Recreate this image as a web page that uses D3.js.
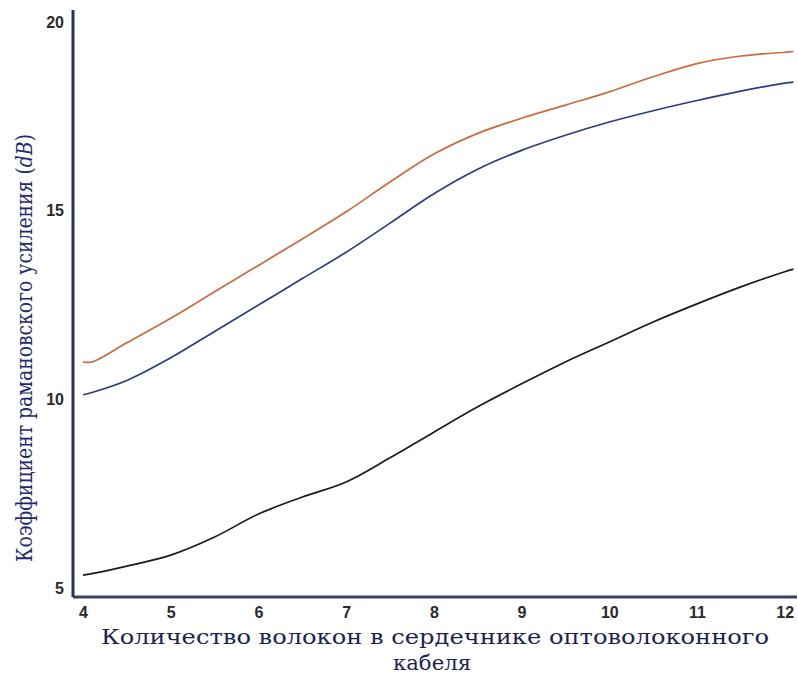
<!DOCTYPE html>
<html>
<head>
<meta charset="utf-8">
<script src="https://cdn.jsdelivr.net/npm/d3@7"></script>
<style>
  html, body { margin: 0; padding: 0; background: #ffffff; }
  svg { display: block; }
  .axis-title { font-family: "DejaVu Serif", "Liberation Serif", "Times New Roman", serif; }
</style>
</head>
<body>
<svg id="chart" width="798" height="674"></svg>
<script>
// Number of fibres in the cable core
const fibreCounts = [4, 4.1, 4.5, 5, 5.5, 6, 6.5, 7, 7.5, 8, 8.5, 9, 9.5, 10, 10.5, 11, 11.5, 12, 12.1];

// Raman gain (dB) for each configuration
const gainUpper = [10.99, 10.99, 11.5, 12.15, 12.85, 13.55, 14.25, 14.97, 15.76, 16.5, 17.05, 17.45, 17.8, 18.15, 18.55, 18.9, 19.1, 19.2, 19.22];
const gainMiddle = [10.12, 10.18, 10.5, 11.1, 11.8, 12.5, 13.2, 13.9, 14.67, 15.45, 16.1, 16.6, 17.0, 17.35, 17.65, 17.92, 18.17, 18.38, 18.41];
const gainLower = [5.34, 5.38, 5.58, 5.87, 6.35, 6.96, 7.41, 7.81, 8.45, 9.13, 9.80, 10.41, 10.99, 11.52, 12.05, 12.53, 12.98, 13.38, 13.45];

const xTicks = [4, 5, 6, 7, 8, 9, 10, 11, 12];
const yTicks = [5, 10, 15, 20];

const series = [
  { name: "upper", values: gainUpper, color: "#c96b3f" },
  { name: "middle", values: gainMiddle, color: "#2d3c7e" },
  { name: "lower", values: gainLower, color: "#1b1b1f" }
];

const svg = d3.select("#chart");

const x = d3.scaleLinear().domain([3.886, 12.14]).range([73, 797]);
const y = d3.scaleLinear().domain([4.76, 20.32]).range([597, 10]);

// Curves
const line = d3.line()
  .x((d, i) => x(fibreCounts[i]))
  .y(d => y(d))
  .curve(d3.curveCatmullRom.alpha(0.5));

svg.append("g")
  .selectAll("path")
  .data(series)
  .join("path")
  .attr("d", d => line(d.values))
  .attr("fill", "none")
  .attr("stroke", d => d.color)
  .attr("stroke-width", 1.7)
  .attr("stroke-linejoin", "round");

// Axes (no tick marks, labels only)
const xAxis = d3.axisBottom(x).tickValues(xTicks).tickSize(0).tickPadding(10).tickFormat(d3.format("d"));
const yAxis = d3.axisLeft(y).tickValues(yTicks).tickSize(0).tickPadding(9).tickFormat(d3.format("d"));

const gx = svg.append("g").attr("transform", "translate(0,597)").call(xAxis);
const gy = svg.append("g").attr("transform", "translate(73,0)").call(yAxis);

[gx, gy].forEach(g => {
  g.select(".domain").attr("stroke", "#27305e").attr("stroke-width", 3);
  g.selectAll("text")
    .attr("fill", "#2a2a2a")
    .style("font-family", "'Liberation Sans', Arial, sans-serif")
    .style("font-size", "16px")
    .style("font-weight", "bold");
});
gx.select(".domain").attr("d", "M73,0H797").attr("stroke", "#3a4262");
gy.select(".domain").attr("d", "M0,597V10");

// Axis titles
svg.append("text")
  .attr("class", "axis-title")
  .attr("transform", "translate(32,348) rotate(-90)")
  .attr("text-anchor", "middle")
  .attr("fill", "#1f2a6e")
  .attr("textLength", 428)
  .attr("lengthAdjust", "spacingAndGlyphs")
  .style("font-size", "23px")
  .call(t => {
    t.append("tspan").text("Коэффициент рамановского усиления (");
    t.append("tspan").style("font-style", "italic").text("dB");
    t.append("tspan").text(")");
  });

svg.append("text")
  .attr("class", "axis-title")
  .attr("x", 435)
  .attr("y", 644)
  .attr("text-anchor", "middle")
  .attr("fill", "#1d2252")
  .attr("textLength", 668)
  .attr("lengthAdjust", "spacingAndGlyphs")
  .style("font-size", "21px")
  .text("Количество волокон в сердечнике оптоволоконного");

svg.append("text")
  .attr("class", "axis-title")
  .attr("x", 432)
  .attr("y", 670)
  .attr("text-anchor", "middle")
  .attr("fill", "#1d2252")
  .attr("textLength", 78)
  .attr("lengthAdjust", "spacingAndGlyphs")
  .style("font-size", "21px")
  .text("кабеля");
</script>
</body>
</html>
